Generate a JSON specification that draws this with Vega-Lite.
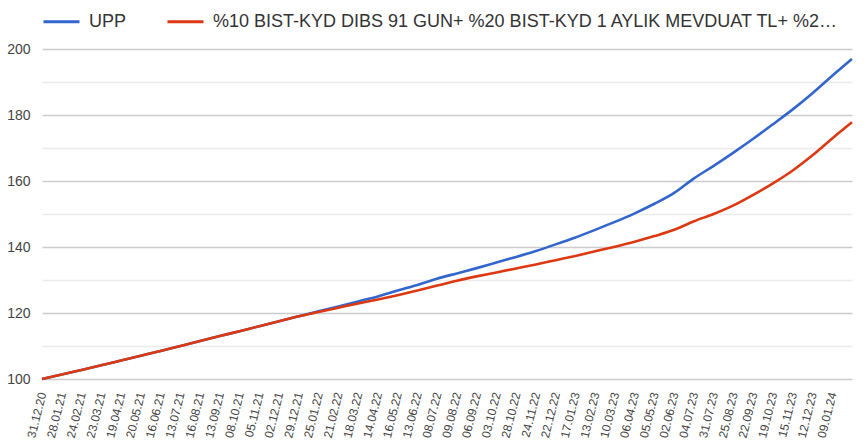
{
  "$schema": "https://vega.github.io/schema/vega-lite/v6.json",
  "width": 810,
  "height": 330,
  "autosize": "none",
  "padding": {"left": 42, "top": 49, "right": 15, "bottom": 66},
  "background": "white",
  "config": {
    "font": "Liberation Sans",
    "view": {"stroke": null}
  },
  "datasets": {
    "rows": [
      {"d": "31.12.20", "s": "UPP", "v": 100},
      {"d": "28.01.21", "s": "UPP", "v": 101.35},
      {"d": "24.02.21", "s": "UPP", "v": 102.75},
      {"d": "23.03.21", "s": "UPP", "v": 104.15},
      {"d": "19.04.21", "s": "UPP", "v": 105.6},
      {"d": "20.05.21", "s": "UPP", "v": 107.05},
      {"d": "16.06.21", "s": "UPP", "v": 108.5},
      {"d": "13.07.21", "s": "UPP", "v": 110.0},
      {"d": "16.08.21", "s": "UPP", "v": 111.5},
      {"d": "13.09.21", "s": "UPP", "v": 113.0},
      {"d": "08.10.21", "s": "UPP", "v": 114.5},
      {"d": "05.11.21", "s": "UPP", "v": 116.0},
      {"d": "02.12.21", "s": "UPP", "v": 117.5},
      {"d": "29.12.21", "s": "UPP", "v": 119.0},
      {"d": "25.01.22", "s": "UPP", "v": 120.5},
      {"d": "21.02.22", "s": "UPP", "v": 122.0},
      {"d": "18.03.22", "s": "UPP", "v": 123.5},
      {"d": "14.04.22", "s": "UPP", "v": 125.0},
      {"d": "16.05.22", "s": "UPP", "v": 126.8},
      {"d": "13.06.22", "s": "UPP", "v": 128.5},
      {"d": "08.07.22", "s": "UPP", "v": 130.4},
      {"d": "09.08.22", "s": "UPP", "v": 132.0},
      {"d": "06.09.22", "s": "UPP", "v": 133.6},
      {"d": "03.10.22", "s": "UPP", "v": 135.3},
      {"d": "28.10.22", "s": "UPP", "v": 137.0},
      {"d": "24.11.22", "s": "UPP", "v": 138.8},
      {"d": "22.12.22", "s": "UPP", "v": 140.8},
      {"d": "17.01.23", "s": "UPP", "v": 142.9},
      {"d": "13.02.23", "s": "UPP", "v": 145.2},
      {"d": "10.03.23", "s": "UPP", "v": 147.6},
      {"d": "06.04.23", "s": "UPP", "v": 150.2},
      {"d": "05.05.23", "s": "UPP", "v": 153.1},
      {"d": "02.06.23", "s": "UPP", "v": 156.4},
      {"d": "04.07.23", "s": "UPP", "v": 160.8},
      {"d": "31.07.23", "s": "UPP", "v": 164.6},
      {"d": "25.08.23", "s": "UPP", "v": 168.6},
      {"d": "22.09.23", "s": "UPP", "v": 172.8},
      {"d": "19.10.23", "s": "UPP", "v": 177.2},
      {"d": "15.11.23", "s": "UPP", "v": 181.7},
      {"d": "12.12.23", "s": "UPP", "v": 186.6},
      {"d": "09.01.24", "s": "UPP", "v": 191.9},
      {"d": "26.01.24", "s": "UPP", "v": 197.0},
      {"d": "31.12.20", "s": "%10 BIST-KYD DIBS 91 GUN+ %20 BIST-KYD 1 AYLIK MEVDUAT TL+ %2…", "v": 100},
      {"d": "28.01.21", "s": "%10 BIST-KYD DIBS 91 GUN+ %20 BIST-KYD 1 AYLIK MEVDUAT TL+ %2…", "v": 101.35},
      {"d": "24.02.21", "s": "%10 BIST-KYD DIBS 91 GUN+ %20 BIST-KYD 1 AYLIK MEVDUAT TL+ %2…", "v": 102.75},
      {"d": "23.03.21", "s": "%10 BIST-KYD DIBS 91 GUN+ %20 BIST-KYD 1 AYLIK MEVDUAT TL+ %2…", "v": 104.15},
      {"d": "19.04.21", "s": "%10 BIST-KYD DIBS 91 GUN+ %20 BIST-KYD 1 AYLIK MEVDUAT TL+ %2…", "v": 105.6},
      {"d": "20.05.21", "s": "%10 BIST-KYD DIBS 91 GUN+ %20 BIST-KYD 1 AYLIK MEVDUAT TL+ %2…", "v": 107.05},
      {"d": "16.06.21", "s": "%10 BIST-KYD DIBS 91 GUN+ %20 BIST-KYD 1 AYLIK MEVDUAT TL+ %2…", "v": 108.5},
      {"d": "13.07.21", "s": "%10 BIST-KYD DIBS 91 GUN+ %20 BIST-KYD 1 AYLIK MEVDUAT TL+ %2…", "v": 110.0},
      {"d": "16.08.21", "s": "%10 BIST-KYD DIBS 91 GUN+ %20 BIST-KYD 1 AYLIK MEVDUAT TL+ %2…", "v": 111.5},
      {"d": "13.09.21", "s": "%10 BIST-KYD DIBS 91 GUN+ %20 BIST-KYD 1 AYLIK MEVDUAT TL+ %2…", "v": 113.0},
      {"d": "08.10.21", "s": "%10 BIST-KYD DIBS 91 GUN+ %20 BIST-KYD 1 AYLIK MEVDUAT TL+ %2…", "v": 114.5},
      {"d": "05.11.21", "s": "%10 BIST-KYD DIBS 91 GUN+ %20 BIST-KYD 1 AYLIK MEVDUAT TL+ %2…", "v": 116.0},
      {"d": "02.12.21", "s": "%10 BIST-KYD DIBS 91 GUN+ %20 BIST-KYD 1 AYLIK MEVDUAT TL+ %2…", "v": 117.5},
      {"d": "29.12.21", "s": "%10 BIST-KYD DIBS 91 GUN+ %20 BIST-KYD 1 AYLIK MEVDUAT TL+ %2…", "v": 119.0},
      {"d": "25.01.22", "s": "%10 BIST-KYD DIBS 91 GUN+ %20 BIST-KYD 1 AYLIK MEVDUAT TL+ %2…", "v": 120.3},
      {"d": "21.02.22", "s": "%10 BIST-KYD DIBS 91 GUN+ %20 BIST-KYD 1 AYLIK MEVDUAT TL+ %2…", "v": 121.6},
      {"d": "18.03.22", "s": "%10 BIST-KYD DIBS 91 GUN+ %20 BIST-KYD 1 AYLIK MEVDUAT TL+ %2…", "v": 122.9},
      {"d": "14.04.22", "s": "%10 BIST-KYD DIBS 91 GUN+ %20 BIST-KYD 1 AYLIK MEVDUAT TL+ %2…", "v": 124.1},
      {"d": "16.05.22", "s": "%10 BIST-KYD DIBS 91 GUN+ %20 BIST-KYD 1 AYLIK MEVDUAT TL+ %2…", "v": 125.4},
      {"d": "13.06.22", "s": "%10 BIST-KYD DIBS 91 GUN+ %20 BIST-KYD 1 AYLIK MEVDUAT TL+ %2…", "v": 126.8},
      {"d": "08.07.22", "s": "%10 BIST-KYD DIBS 91 GUN+ %20 BIST-KYD 1 AYLIK MEVDUAT TL+ %2…", "v": 128.3},
      {"d": "09.08.22", "s": "%10 BIST-KYD DIBS 91 GUN+ %20 BIST-KYD 1 AYLIK MEVDUAT TL+ %2…", "v": 129.8},
      {"d": "06.09.22", "s": "%10 BIST-KYD DIBS 91 GUN+ %20 BIST-KYD 1 AYLIK MEVDUAT TL+ %2…", "v": 131.1},
      {"d": "03.10.22", "s": "%10 BIST-KYD DIBS 91 GUN+ %20 BIST-KYD 1 AYLIK MEVDUAT TL+ %2…", "v": 132.3},
      {"d": "28.10.22", "s": "%10 BIST-KYD DIBS 91 GUN+ %20 BIST-KYD 1 AYLIK MEVDUAT TL+ %2…", "v": 133.5},
      {"d": "24.11.22", "s": "%10 BIST-KYD DIBS 91 GUN+ %20 BIST-KYD 1 AYLIK MEVDUAT TL+ %2…", "v": 134.7},
      {"d": "22.12.22", "s": "%10 BIST-KYD DIBS 91 GUN+ %20 BIST-KYD 1 AYLIK MEVDUAT TL+ %2…", "v": 136.0},
      {"d": "17.01.23", "s": "%10 BIST-KYD DIBS 91 GUN+ %20 BIST-KYD 1 AYLIK MEVDUAT TL+ %2…", "v": 137.3},
      {"d": "13.02.23", "s": "%10 BIST-KYD DIBS 91 GUN+ %20 BIST-KYD 1 AYLIK MEVDUAT TL+ %2…", "v": 138.7},
      {"d": "10.03.23", "s": "%10 BIST-KYD DIBS 91 GUN+ %20 BIST-KYD 1 AYLIK MEVDUAT TL+ %2…", "v": 140.1},
      {"d": "06.04.23", "s": "%10 BIST-KYD DIBS 91 GUN+ %20 BIST-KYD 1 AYLIK MEVDUAT TL+ %2…", "v": 141.6},
      {"d": "05.05.23", "s": "%10 BIST-KYD DIBS 91 GUN+ %20 BIST-KYD 1 AYLIK MEVDUAT TL+ %2…", "v": 143.3},
      {"d": "02.06.23", "s": "%10 BIST-KYD DIBS 91 GUN+ %20 BIST-KYD 1 AYLIK MEVDUAT TL+ %2…", "v": 145.2},
      {"d": "04.07.23", "s": "%10 BIST-KYD DIBS 91 GUN+ %20 BIST-KYD 1 AYLIK MEVDUAT TL+ %2…", "v": 147.8},
      {"d": "31.07.23", "s": "%10 BIST-KYD DIBS 91 GUN+ %20 BIST-KYD 1 AYLIK MEVDUAT TL+ %2…", "v": 150.0},
      {"d": "25.08.23", "s": "%10 BIST-KYD DIBS 91 GUN+ %20 BIST-KYD 1 AYLIK MEVDUAT TL+ %2…", "v": 152.6},
      {"d": "22.09.23", "s": "%10 BIST-KYD DIBS 91 GUN+ %20 BIST-KYD 1 AYLIK MEVDUAT TL+ %2…", "v": 155.8},
      {"d": "19.10.23", "s": "%10 BIST-KYD DIBS 91 GUN+ %20 BIST-KYD 1 AYLIK MEVDUAT TL+ %2…", "v": 159.3},
      {"d": "15.11.23", "s": "%10 BIST-KYD DIBS 91 GUN+ %20 BIST-KYD 1 AYLIK MEVDUAT TL+ %2…", "v": 163.2},
      {"d": "12.12.23", "s": "%10 BIST-KYD DIBS 91 GUN+ %20 BIST-KYD 1 AYLIK MEVDUAT TL+ %2…", "v": 167.8},
      {"d": "09.01.24", "s": "%10 BIST-KYD DIBS 91 GUN+ %20 BIST-KYD 1 AYLIK MEVDUAT TL+ %2…", "v": 172.9},
      {"d": "26.01.24", "s": "%10 BIST-KYD DIBS 91 GUN+ %20 BIST-KYD 1 AYLIK MEVDUAT TL+ %2…", "v": 177.8}
    ]
  },
  "data": {"name": "rows"},
  "mark": {"type": "line", "strokeWidth": 2.6, "interpolate": "monotone"},
  "encoding": {
    "x": {
      "field": "d",
      "type": "ordinal",
      "sort": null,
      "scale": {"type": "point", "padding": 0},
      "axis": {
        "title": null,
        "domain": false,
        "ticks": false,
        "grid": false,
        "labelAngle": -76,
        "labelFontSize": 12,
        "labelColor": "#444444",
        "labelPadding": 13,
        "labelOverlap": false,
        "labelExpr": "datum.label == '26.01.24' ? '' : datum.label"
      }
    },
    "y": {
      "field": "v",
      "type": "quantitative",
      "scale": {"domain": [100, 200], "nice": false, "zero": false},
      "axis": {
        "title": null,
        "domain": false,
        "ticks": false,
        "values": [100, 110, 120, 130, 140, 150, 160, 170, 180, 190, 200],
        "labelExpr": "datum.value % 20 == 0 ? datum.label : ''",
        "labelFontSize": 14,
        "labelColor": "#444444",
        "labelPadding": 12,
        "gridColor": {"condition": {"test": "datum.value % 20 == 0", "value": "#cccccc"}, "value": "#ebebeb"},
        "gridWidth": 1.5
      }
    },
    "color": {
      "field": "s",
      "type": "nominal",
      "sort": null,
      "scale": {
        "domain": ["UPP", "%10 BIST-KYD DIBS 91 GUN+ %20 BIST-KYD 1 AYLIK MEVDUAT TL+ %2…"],
        "range": ["#3366cc", "#dc3912"]
      },
      "legend": {
        "title": null,
        "orient": "none",
        "legendX": 0,
        "legendY": -47,
        "direction": "horizontal",
        "symbolType": "stroke",
        "symbolSize": 1296,
        "symbolStrokeWidth": 3,
        "labelFontSize": 18,
        "labelColor": "#333333",
        "labelLimit": 1000,
        "labelOffset": 8,
        "columnPadding": 34
      }
    }
  }
}
